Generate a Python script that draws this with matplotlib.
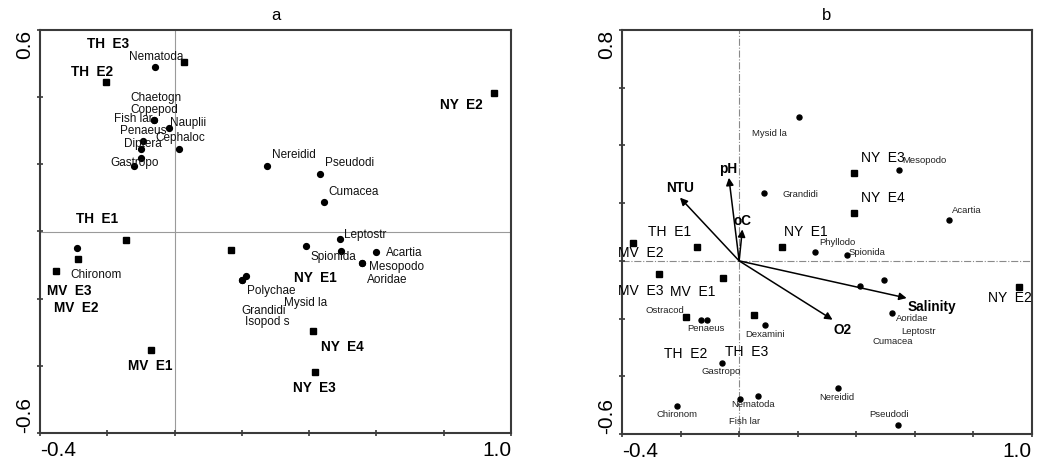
import matplotlib
matplotlib.use("Agg")
import matplotlib.pyplot as plt

# ---------------- Data: panel a ----------------
sites_a = ["TH  E1", "TH  E2", "TH  E3", "MV  E1", "MV  E2", "MV  E3",
           "NY  E1", "NY  E2", "NY  E3", "NY  E4"]
sites_a_x = [-0.143, -0.204, 0.029, -0.070, -0.286, -0.353, 0.169, 0.950, 0.417, 0.412]
sites_a_y = [-0.025, 0.446, 0.504, -0.353, -0.083, -0.119, -0.054, 0.413, -0.417, -0.296]

species_a = ["Nematoda", "Chaetogn", "Copepod", "Fish lar", "Nauplii", "Penaeus",
             "Cephaloc", "Diptera", "Gastropo", "Chironom", "Nereidid", "Pseudodi",
             "Cumacea", "Leptostr", "Mysid la", "Spionida", "Acartia", "Mesopodo",
             "Aoridae", "Polychae", "Grandidi", "Isopod s"]
species_a_x = [-0.058, -0.061, -0.100, -0.061, -0.016, -0.093, 0.014, -0.100, -0.121,
               -0.289, 0.276, 0.433, 0.444, 0.492, 0.390, 0.496, 0.598, 0.557,
               0.557, 0.213, 0.201, 0.201]
species_a_y = [0.489, 0.333, 0.220, 0.333, 0.307, 0.269, 0.247, 0.245, 0.195,
               -0.050, 0.194, 0.172, 0.087, -0.022, -0.042, -0.059, -0.060, -0.093,
               -0.093, -0.133, -0.144, -0.144]

# ---------------- Data: panel b ----------------
sites_b = sites_a
sites_b_x = [-0.145, -0.182, 0.052, -0.056, -0.363, -0.275, 0.147, 0.954, 0.392, 0.392]
sites_b_y = [0.049, -0.196, -0.187, -0.061, 0.063, -0.047, 0.049, -0.089, 0.304, 0.167]

species_b = ["Mysid la", "Grandidi", "Mesopodo", "Acartia", "Phyllodo", "Spionida",
             "Ostracod", "Penaeus", "Diptera", "Dexamini", "Gastropo", "Nematoda",
             "Fish lar", "Chironom", "Nereidid", "Pseudodi", "Aoridae", "Leptostr",
             "Cumacea"]
species_b_x = [0.204, 0.086, 0.546, 0.717, 0.260, 0.367, -0.182, -0.111, -0.131, 0.089,
               -0.060, 0.065, 0.003, -0.211, 0.338, 0.543, 0.523, 0.495, 0.412]
species_b_y = [0.499, 0.234, 0.315, 0.143, 0.030, 0.021, -0.196, -0.204, -0.204, -0.223,
               -0.353, -0.468, -0.477, -0.502, -0.442, -0.570, -0.179, -0.065, -0.088]
species_b_shown = [True, True, True, True, True, True, True, True, False, True,
                   True, True, True, True, True, True, True, True, True]

env_vars = ["pH", "NTU", "oC", "Salinity", "O2"]
env_x = [-0.035, -0.202, 0.011, 0.572, 0.319]
env_y = [0.288, 0.219, 0.109, -0.129, -0.204]

# ---------------- Label layout (positions of the text, not data) ----------------
site_a_lab = [(-0.231, 0.036), (-0.245, 0.474), (-0.198, 0.558), (-0.071, -0.401),
              (-0.291, -0.228), (-0.314, -0.178), (0.420, -0.137), (0.851, 0.376),
              (0.417, -0.466), (0.499, -0.344)]
species_a_lab = [(-0.056, 0.520), (-0.056, 0.399), (-0.061, 0.363), (-0.124, 0.334),
                 (0.040, 0.324), (-0.094, 0.299), (0.016, 0.279), (-0.095, 0.262),
                 (-0.120, 0.204), (-0.234, -0.129), (0.356, 0.227), (0.519, 0.204),
                 (0.533, 0.119), (0.568, -0.010), (0.390, -0.212), (0.471, -0.075),
                 (0.683, -0.063), (0.660, -0.107), (0.632, -0.144), (0.286, -0.178),
                 (0.266, -0.236), (0.274, -0.269)]
site_b_lab = [(-0.236, 0.100), (-0.182, -0.323), (0.026, -0.315), (-0.160, -0.109),
              (-0.335, 0.028), (-0.336, -0.106), (0.228, 0.100), (0.924, -0.129),
              (0.490, 0.355), (0.490, 0.219)]
species_b_lab = [(0.105, 0.440), (0.208, 0.229), (0.634, 0.347), (0.778, 0.173),
                 (0.335, 0.063), (0.437, 0.030), (-0.253, -0.173), (-0.114, -0.236),
                 (0, 0), (0.088, -0.254), (-0.062, -0.384), (0.048, -0.498),
                 (0.017, -0.558), (-0.212, -0.532), (0.335, -0.474), (0.511, -0.533),
                 (0.592, -0.199), (0.611, -0.245), (0.524, -0.280)]
env_lab = [(-0.037, 0.319), (-0.202, 0.251), (0.011, 0.138), (0.657, -0.160), (0.352, -0.239)]

SANS = ["Liberation Sans", "DejaVu Sans"]
plt.rcParams["font.family"] = SANS

fig = plt.figure(figsize=(10.39, 4.62), dpi=100)
axa = fig.add_axes([40 / 1039, 29 / 462, 471 / 1039, 403 / 462])
axb = fig.add_axes([622 / 1039, 28 / 462, 410 / 1039, 404 / 462])

spine_col = "#3a3a3a"


def style_axes(ax, ylo, yhi, title):
    ax.set_xlim(-0.4, 1.0)
    ax.set_ylim(ylo, yhi)
    xt = [-0.4 + 0.2 * i for i in range(8)]
    yt = [ylo + 0.2 * i for i in range(int(round((yhi - ylo) / 0.2)) + 1)]
    ax.set_xticks(xt)
    ax.set_yticks(yt)
    ax.set_xticklabels(["-0.4"] + [""] * 6 + ["1.0"], fontsize=15)
    ylabels = ["%.1f" % ylo] + [""] * (len(yt) - 2) + ["%.1f" % yhi]
    ax.set_yticklabels(ylabels, fontsize=15, rotation=90)
    xl = ax.get_xticklabels()
    xl[0].set_ha("left")
    xl[-1].set_ha("right")
    yl = ax.get_yticklabels()
    yl[0].set_va("bottom")
    yl[-1].set_va("top")
    ax.tick_params(direction="inout", length=5, width=1.2, color=spine_col, pad=2)
    ax.tick_params(axis="x", pad=3)
    for s in ax.spines.values():
        s.set_color(spine_col)
        s.set_linewidth(1.5)
    ax.set_title(title, fontsize=12, pad=7)


# ---------------- Panel a ----------------
style_axes(axa, -0.6, 0.6, "a")
axa.axhline(0, color="#9a9a9a", lw=0.8, zorder=1)
axa.axvline(0, color="#9a9a9a", lw=0.8, zorder=1)
axa.plot(sites_a_x, sites_a_y, "s", color="k", ms=4.8, ls="none", zorder=3)
axa.plot(species_a_x, species_a_y, "o", color="k", ms=4.2, ls="none", zorder=3)
for name, (lx, ly) in zip(sites_a, site_a_lab):
    axa.text(lx, ly, name, ha="center", va="center", fontsize=9.8, fontweight="bold")
for name, (lx, ly) in zip(species_a, species_a_lab):
    axa.text(lx, ly, name, ha="center", va="center", fontsize=8.5, color="#111111")

# ---------------- Panel b ----------------
style_axes(axb, -0.6, 0.8, "b")
axb.axhline(0, color="#8a8a8a", lw=0.8, ls="-.", zorder=1)
axb.axvline(0, color="#8a8a8a", lw=0.8, ls="-.", zorder=1)
axb.plot(sites_b_x, sites_b_y, "s", color="k", ms=4.3, ls="none", zorder=3)
axb.plot(species_b_x, species_b_y, "o", color="k", ms=3.6, ls="none", zorder=3)
for name, (lx, ly) in zip(sites_b, site_b_lab):
    axb.text(lx, ly, name, ha="center", va="center", fontsize=10)
for name, shown, (lx, ly) in zip(species_b, species_b_shown, species_b_lab):
    if shown:
        axb.text(lx, ly, name, ha="center", va="center", fontsize=6.8, color="#222222")
for name, ex, ey, (lx, ly) in zip(env_vars, env_x, env_y, env_lab):
    axb.annotate("", xy=(ex, ey), xytext=(0, 0),
                 arrowprops=dict(arrowstyle="-|>", color="k", lw=1.1,
                                 shrinkA=0, shrinkB=0, mutation_scale=11))
    axb.text(lx, ly, name, ha="center", va="center", fontsize=9.8, fontweight="bold")

fig.savefig("out.png", dpi=100)
